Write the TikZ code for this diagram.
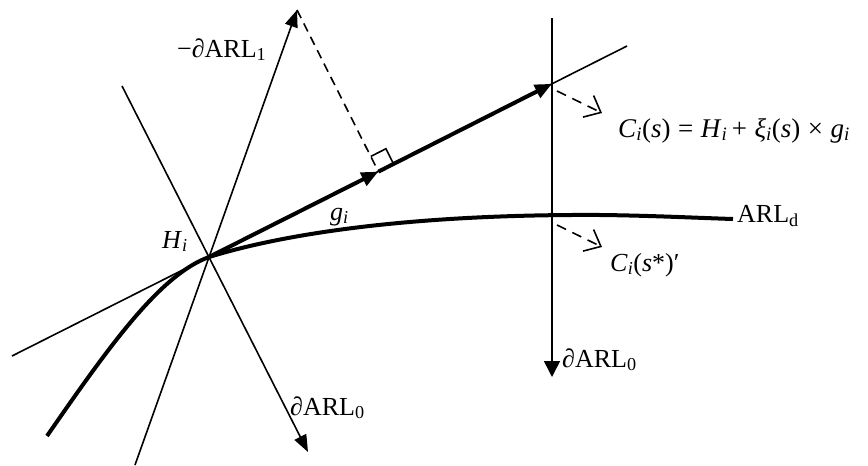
\documentclass[tikz,border=0pt]{standalone}
\usepackage{fontspec}
\setmainfont{Liberation Serif}
\usetikzlibrary{arrows.meta,calc}
\newcommand\sbs[1]{\textsubscript{#1}}
\begin{document}
\begin{tikzpicture}[x=1pt,y=-1pt,
  thinline/.style={line width=1.6pt},
  thickline/.style={line width=4pt},
  tri/.style={-{Triangle[length=17pt,width=13pt]}},
  barb/.style={line width=1.6pt,dash pattern=on 10pt off 7pt,
    -{Straight Barb[length=14pt,width=24pt,line width=1.6pt]}},
  lbl/.style={inner sep=0pt,anchor=base west,font=\fontsize{26}{30}\selectfont}]
\useasboundingbox (0,0) rectangle (868,466);
% points
\coordinate (H) at (209,257);
\coordinate (gL) at (12,356);
\coordinate (gR) at (627,46);
\coordinate (F) at (378.4,171.6);
\coordinate (T) at (552,83.8);
\coordinate (Atop) at (297,10);
\coordinate (Bbot) at (135,465);
\coordinate (Ctop) at (122,86);
\coordinate (Dtip) at (308,452);
\coordinate (Vtop) at (552,18);
\coordinate (Vbot) at (552,377);
% thin lines
\draw[thinline] (gL) -- (gR);
\draw[thinline,tri] (Bbot) -- (Atop);
\draw[thinline,tri] (Ctop) -- (Dtip);
\draw[thinline,-{Triangle[length=16pt,width=16pt]}] (Vtop) -- (Vbot);
% thick direction arrow
\draw[thickline,-{Triangle[length=17pt,width=14pt]}] (H) -- (F);
\draw[thickline,-{Triangle[length=17pt,width=14pt]}] (F) -- (T);
% ARL_d curve
\draw[thickline] (47,436) .. controls (110,345) and (160,275) .. (H)
  .. controls (290,232) and (420,214) .. (600,215)
  .. controls (650,215.5) and (700,218) .. (733,219);
% perpendicular dashed line and right angle mark
\draw[thinline,dash pattern=on 9pt off 6pt] (Atop) -- (F);
\path ($(F)!17pt!(Atop)$) coordinate (R1);
\path ($(F)!17pt!(T)$) coordinate (R3);
\draw[thinline] (R1) -- ($(R1)+(R3)-(F)$) -- (R3);
% small dashed pointer arrows
\coordinate (p1s) at (557,91);
\coordinate (p1e) at (602,113);
\coordinate (p2s) at (557,225);
\coordinate (p2e) at (602,247);
\draw[barb] (p1s) -- (p1e);
\draw[barb] (p2s) -- (p2e);
% labels
\node[lbl] (l1) at (177,57) {−\textit{∂}ARL\sbs{1}};
\node[lbl,font=\fontsize{27}{30}\selectfont] (l2) at (618,137) {\textit{C}\sbs{\textit{i}}(\textit{s})\;=\;\textit{H}\sbs{\textit{i}}\,+\;\textit{ξ}\sbs{\textit{i}}(\textit{s})\;×\;\textit{g}\sbs{\textit{i}}};
\node[lbl] (l3) at (737,222) {ARL\sbs{d}};
\node[lbl] (l4) at (610,271) {\textit{C}\sbs{\textit{i}}(\textit{s}*)′};
\node[lbl] (l5) at (562,367) {\textit{∂}ARL\sbs{0}};
\node[lbl] (l6) at (290,415) {\textit{∂}ARL\sbs{0}};
\node[lbl] (l7) at (162,248) {\textit{H}\sbs{\textit{i}}};
\node[lbl] (l8) at (330,220) {\textit{g}\sbs{\textit{i}}};
\end{tikzpicture}
\end{document}
